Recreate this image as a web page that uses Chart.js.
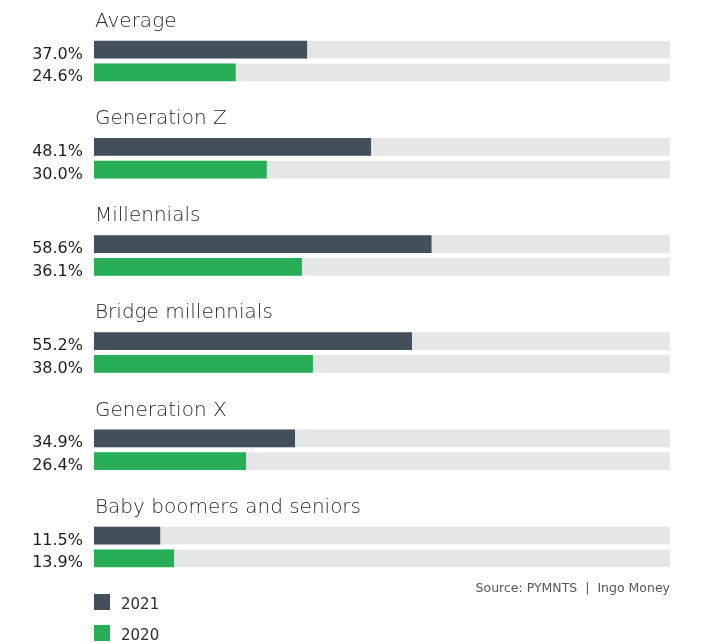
<!DOCTYPE html>
<html lang="en">
<head>
    <meta charset="UTF-8">
    <title>Generations 2021 vs 2020</title>
    <script src="https://cdn.jsdelivr.net/npm/chart.js"></script>
    <style>
        body { margin: 0; background-color: #ffffff; }
        .container { width: 709px; height: 643px; position: relative; }
    </style>
</head>
<body>
    <div class="container">
        <canvas id="grafico" width="709" height="643"></canvas>
    </div>

    <script>
        const grupos = ['Average', 'Generation Z', 'Millennials', 'Bridge millennials', 'Generation X', 'Baby boomers and seniors'];
        const valores2021 = [37.0, 48.1, 58.6, 55.2, 34.9, 11.5];
        const valores2020 = [24.6, 30.0, 36.1, 38.0, 26.4, 13.9];
        const fuente = 'Source: PYMNTS  |  Ingo Money';

        const FONT = '"DejaVu Sans", sans-serif';

        // pistas grises 0-100 detras de cada barra
        const pistas = {
            id: 'pistas',
            beforeDatasetsDraw(chart) {
                const ctx = chart.ctx;
                const x = chart.scales.x;
                ctx.save();
                ctx.fillStyle = '#e5e6e8';
                chart.data.datasets.forEach((ds, i) => {
                    chart.getDatasetMeta(i).data.forEach(bar => {
                        const x0 = x.getPixelForValue(0);
                        const x1 = x.getPixelForValue(100);
                        ctx.fillRect(x0, bar.y - bar.height / 2, x1 - x0, bar.height);
                    });
                });
                ctx.restore();
            }
        };

        // titulos de grupo, valores a la izquierda, fuente y leyenda
        const textos = {
            id: 'textos',
            afterDraw(chart) {
                const ctx = chart.ctx;
                const x0 = chart.scales.x.getPixelForValue(0);
                const x1 = chart.scales.x.getPixelForValue(100);
                ctx.save();

                const meta0 = chart.getDatasetMeta(0);
                ctx.fillStyle = '#2a2a2a';
                ctx.font = '300 20px ' + FONT;
                ctx.textAlign = 'left';
                ctx.textBaseline = 'alphabetic';
                meta0.data.forEach((bar, j) => {
                    ctx.fillText(chart.data.labels[j], x0 + 1, bar.y - bar.height / 2 - 14);
                });

                ctx.font = '16px ' + FONT;
                ctx.fillStyle = '#1e1e1e';
                ctx.textAlign = 'right';
                chart.data.datasets.forEach((ds, i) => {
                    chart.getDatasetMeta(i).data.forEach((bar, j) => {
                        ctx.fillText(ds.data[j].toFixed(1) + '%', x0 - 11, bar.y + 9);
                    });
                });

                ctx.font = '12.5px ' + FONT;
                ctx.fillStyle = '#555555';
                ctx.fillText(fuente, x1, 592);

                ctx.textAlign = 'left';
                ctx.font = '15px ' + FONT;
                chart.data.datasets.forEach((ds, i) => {
                    const top = 594 + i * 31;
                    ctx.fillStyle = ds.backgroundColor;
                    ctx.fillRect(x0, top, 16, 16);
                    ctx.fillStyle = '#2e2e2e';
                    ctx.fillText(ds.label, x0 + 27, top + 15);
                });
                ctx.restore();
            }
        };

        const ctx = document.getElementById('grafico').getContext('2d');
        new Chart(ctx, {
            type: 'bar',
            data: {
                labels: grupos,
                datasets: [
                    { label: '2021', data: valores2021, backgroundColor: '#434f5a' },
                    { label: '2020', data: valores2020, backgroundColor: '#27ae57' }
                ]
            },
            options: {
                indexAxis: 'y',
                responsive: false,
                animation: false,
                categoryPercentage: 0.468,
                barPercentage: 0.778,
                layout: { padding: { left: 94, right: 39, top: 12.5, bottom: 47.5 } },
                scales: {
                    x: { min: 0, max: 100, display: false },
                    y: { display: false }
                },
                plugins: {
                    legend: { display: false },
                    tooltip: { enabled: false }
                }
            },
            plugins: [pistas, textos]
        });
    </script>
</body>
</html>
